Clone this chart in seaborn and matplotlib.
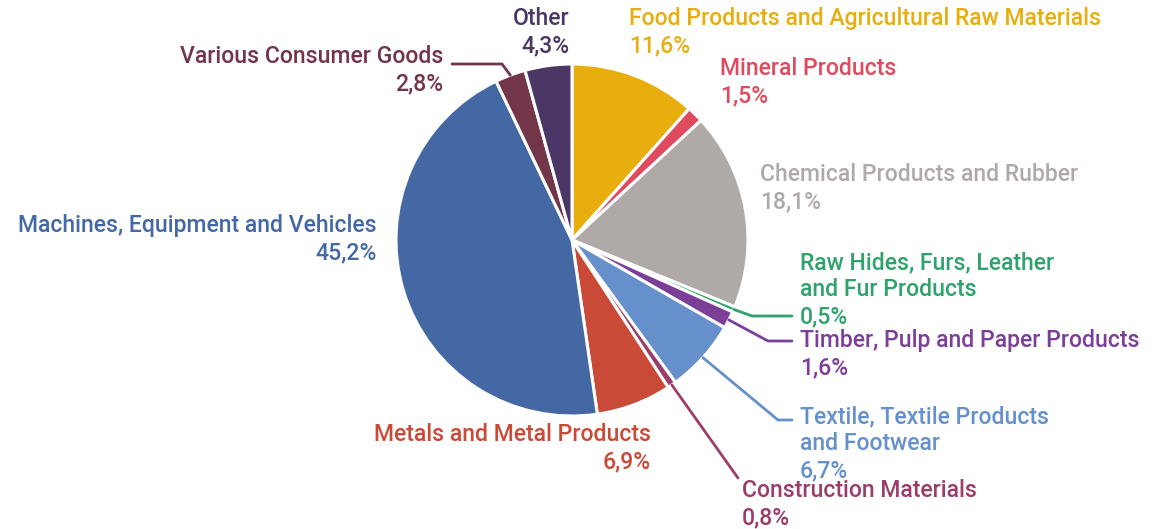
import numpy as np
import matplotlib.pyplot as plt
import seaborn as sns

sns.set_theme(style='white')
plt.rcParams['font.family'] = ['Roboto', 'DejaVu Sans']

# Export structure, shares in percent (clockwise from 12 o'clock)
categories = ['Food Products and Agricultural Raw Materials', 'Mineral Products',
              'Chemical Products and Rubber', 'Raw Hides, Furs, Leather\nand Fur Products',
              'Timber, Pulp and Paper Products', 'Textile, Textile Products\nand Footwear',
              'Construction Materials', 'Metals and Metal Products',
              'Machines, Equipment and Vehicles', 'Various Consumer Goods', 'Other']
shares = [11.6, 1.5, 18.1, 0.5, 1.6, 6.7, 0.8, 6.9, 45.2, 2.8, 4.3]
colors = ['#E8AE0E', '#E04A5E', '#AFAAA8', '#2FA36B', '#7B3F98', '#6690CC',
          '#9B3D6A', '#C94A36', '#4468A4', '#733548', '#4A3766']

W, H = 1156, 529
cx, cy, r = 572, H - 240, 176

fig = plt.figure(figsize=(W / 100, H / 100), dpi=100)
ax = fig.add_axes([0, 0, 1, 1])

wedges, _ = ax.pie(shares, colors=colors, startangle=90, counterclock=False,
                   center=(cx, cy), radius=r, frame=True,
                   wedgeprops=dict(edgecolor='white', linewidth=2.2))
ax.set_xlim(0, W)
ax.set_ylim(0, H)
ax.set_aspect('equal')
ax.axis('off')

def fmt(v):
    return f'{v:.1f}%'.replace('.', ',')

# label anchor (x, y from top, alignment), optional leader elbow points
labels = {
    0: (629, 32, 'left', None),
    1: (720, 82, 'left', None),
    2: (760, 188, 'left', None),
    3: (800, 290, 'left', [(752, 316), (792, 316)]),
    4: (800, 354, 'left', [(768, 341), (792, 341)]),
    5: (800, 444, 'left', [(778, 420), (792, 420)]),
    6: (742, 504, 'left', [(738, 478)]),
    7: (651, 448, 'right', None),
    8: (377, 239, 'right', None),
    9: (443, 70, 'right', [(502, 64), (452, 64)]),
    10: (570, 32, 'right', None),
}

for i, w in enumerate(wedges):
    x, y, ha, elbow = labels[i]
    ax.text(x, H - y, categories[i] + '\n' + fmt(shares[i]), color=colors[i],
            ha=ha, va='center', fontsize=16.6, fontweight='medium', linespacing=1.22)
    if elbow:
        ang = np.deg2rad((w.theta1 + w.theta2) / 2)
        px, py = cx + r * np.cos(ang), cy + r * np.sin(ang)
        xs = [px] + [p[0] for p in elbow]
        ys = [py] + [H - p[1] for p in elbow]
        ax.plot(xs, ys, color=colors[i], lw=2)

fig.savefig('out.png', dpi=100)
